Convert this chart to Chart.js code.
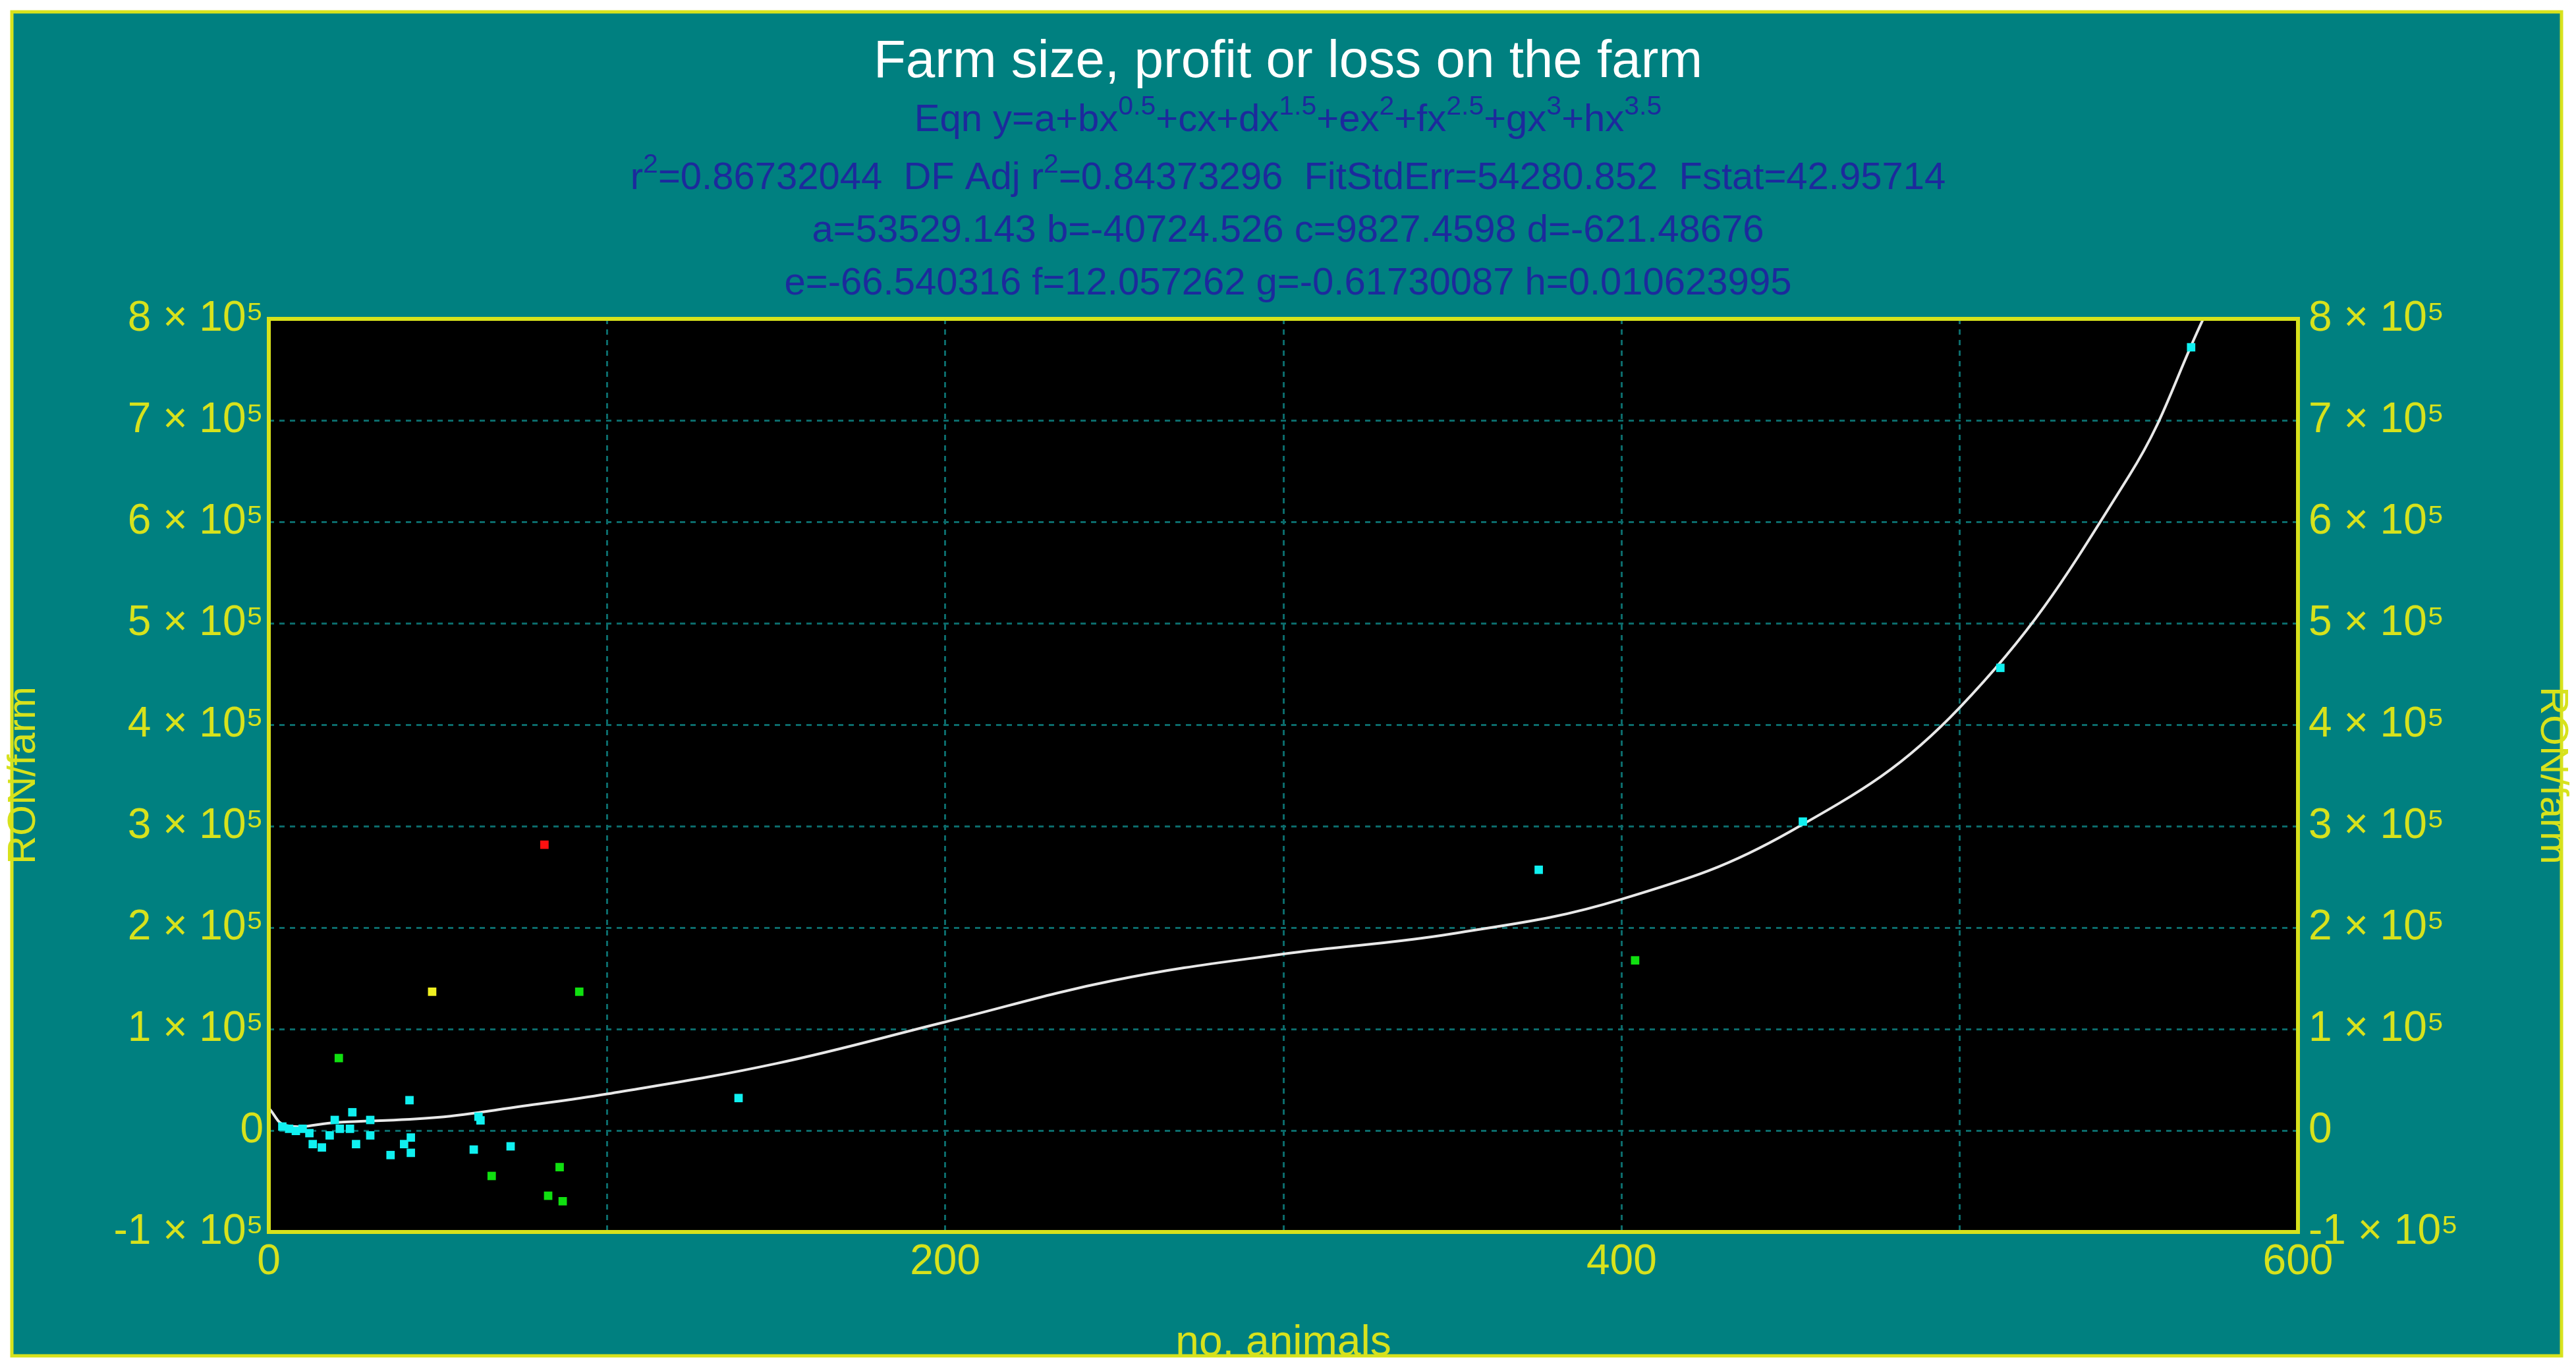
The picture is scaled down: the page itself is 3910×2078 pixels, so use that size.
<!DOCTYPE html>
<html>
<head>
<meta charset="utf-8">
<script src="https://cdn.jsdelivr.net/npm/chart.js@4"></script>
<style>body{margin:0;background:#fff}</style>
</head>
<body>
<canvas id="c" width="3910" height="2078"></canvas>
<script>
// Punkty pomiarowe (liczba zwierząt, RON/gospodarstwo)
const cyanX = [4, 8, 12, 15.7, 13, 18, 21, 24, 10, 6, 25.8, 30, 36, 42, 40, 42, 60.6, 71.5, 138.9, 41.6, 24.7, 19.5, 30, 62, 62.6, 375.5, 453.6, 512, 568.4];
const cyanY = [3900, -400, -2600, -16700, -13400, -4800, 1700, 1700, 1700, 1700, -13400, -4800, -24200, -6900, -13400, -22000, -18800, -15600, 32000, 29900, 18000, 10400, 10400, 13600, 10000, 257000, 304500, 456000, 772000];
const greenX = [20.7, 65.9, 86, 82.6, 86.9, 91.8, 404];
const greenY = [71400, -44800, -36100, -64300, -69700, 136800, 167700];
const redX = [81.5];
const redY = [281700];
const yellowX = [48.3];
const yellowY = [136800];
// Krzywa dopasowania
const fitX = [0, 5, 20, 50, 75, 100, 150, 200, 250, 300, 350, 400, 450, 500, 550, 572];
const fitY = [22000, 5000, 8000, 13000, 24000, 36000, 66000, 107000, 148000, 174000, 194000, 228000, 295000, 417000, 645000, 800000];

const headLines = [
  { font: "80px 'Liberation Sans'", color: "#ffffff", y: 95, segs: [["Farm size, profit or loss on the farm"]] },
  { font: "58px 'Liberation Sans'", color: "#1c2a9c", y: 183, segs: [["Eqn y=a+bx"], ["0.5", 1], ["+cx+dx"], ["1.5", 1], ["+ex"], ["2", 1], ["+fx"], ["2.5", 1], ["+gx"], ["3", 1], ["+hx"], ["3.5", 1]] },
  { font: "58px 'Liberation Sans'", color: "#1c2a9c", y: 271, segs: [["r"], ["2", 1], ["=0.86732044  DF Adj r"], ["2", 1], ["=0.84373296  FitStdErr=54280.852  Fstat=42.95714"]] },
  { font: "58px 'Liberation Sans'", color: "#1c2a9c", y: 351, segs: [["a=53529.143 b=-40724.526 c=9827.4598 d=-621.48676"]] },
  { font: "58px 'Liberation Sans'", color: "#1c2a9c", y: 431, segs: [["e=-66.540316 f=12.057262 g=-0.61730087 h=0.010623995"]] }
];

const pts = (xs, ys) => xs.map((x, i) => ({ x: x, y: ys[i] }));
const yellow = "#d7e21c";

// Tło, ramka i nagłówek
const frame = {
  id: "frame",
  beforeDraw(chart) {
    const ctx = chart.ctx, a = chart.chartArea;
    ctx.save();
    ctx.fillStyle = "#ffffff";
    ctx.fillRect(0, 0, 3910, 2078);
    ctx.fillStyle = "#008080";
    ctx.fillRect(18, 18, 3870, 2040);
    ctx.strokeStyle = yellow;
    ctx.lineWidth = 5;
    ctx.strokeRect(18, 18, 3870, 2040);
    ctx.fillStyle = "#000000";
    ctx.fillRect(a.left, a.top, a.right - a.left, a.bottom - a.top);
    ctx.restore();
  },
  afterDraw(chart) {
    const ctx = chart.ctx, a = chart.chartArea;
    ctx.save();
    ctx.strokeStyle = yellow;
    ctx.lineWidth = 6;
    ctx.strokeRect(a.left, a.top, a.right - a.left, a.bottom - a.top);
    ctx.textBaseline = "middle";
    headLines.forEach(line => {
      const size = parseInt(line.font);
      const supFont = Math.round(size * 0.7) + "px 'Liberation Sans'";
      let w = 0;
      line.segs.forEach(s => { ctx.font = s[1] ? supFont : line.font; w += ctx.measureText(s[0]).width; });
      let x = 1955 - w / 2;
      ctx.fillStyle = line.color;
      line.segs.forEach(s => {
        ctx.font = s[1] ? supFont : line.font;
        ctx.fillText(s[0], x, s[1] ? line.y - size * 0.35 : line.y);
        x += ctx.measureText(s[0]).width;
      });
    });
    ctx.restore();
  }
};

const yLabel = v => v === 0 ? "0" : (v / 1e5) + " × 10⁵";
const gridStyle = { color: "#0b6b6b", lineWidth: 3, drawTicks: false };

new Chart(document.getElementById("c"), {
  type: "scatter",
  data: {
    datasets: [
      { data: pts(fitX, fitY), showLine: true, borderColor: "#e8e8e8", borderWidth: 4, pointRadius: 0, tension: 0.4, order: 5 },
      { data: pts(cyanX, cyanY), backgroundColor: "#10f0f0", borderWidth: 0, pointStyle: "rect", pointRadius: 9 },
      { data: pts(greenX, greenY), backgroundColor: "#10e010", borderWidth: 0, pointStyle: "rect", pointRadius: 9 },
      { data: pts(redX, redY), backgroundColor: "#ff1010", borderWidth: 0, pointStyle: "rect", pointRadius: 9 },
      { data: pts(yellowX, yellowY), backgroundColor: "#f0f020", borderWidth: 0, pointStyle: "rect", pointRadius: 9 }
    ]
  },
  options: {
    responsive: false,
    animation: false,
    layout: { padding: { top: 484, left: 0, right: 0, bottom: 0 } },
    plugins: { legend: { display: false }, tooltip: { enabled: false } },
    scales: {
      x: {
        min: 0, max: 600,
        afterFit: s => { s.height = 208; },
        ticks: { stepSize: 100, color: yellow, font: { size: 64, family: "Liberation Sans" }, padding: 8, maxRotation: 0,
          callback: v => v % 200 === 0 ? v : "" },
        grid: Object.assign({ tickBorderDash: [6, 6] }, gridStyle),
        border: { display: false, dash: [8, 8] },
        title: { display: true, text: "no. animals", color: yellow, font: { size: 64, family: "Liberation Sans" }, padding: 0 }
      },
      y: {
        min: -100000, max: 800000,
        afterFit: s => { s.width = 408; },
        ticks: { stepSize: 100000, color: yellow, font: { size: 64, family: "Liberation Sans" }, padding: 8, callback: yLabel },
        grid: gridStyle,
        border: { display: false, dash: [8, 8] },
        title: { display: true, text: "RON/farm", color: yellow, font: { size: 60, family: "Liberation Sans" }, padding: 0 }
      },
      y2: {
        position: "right",
        min: -100000, max: 800000,
        afterFit: s => { s.width = 422; },
        ticks: { stepSize: 100000, color: yellow, font: { size: 64, family: "Liberation Sans" }, padding: 8, callback: yLabel },
        grid: { display: false },
        border: { display: false },
        title: { display: true, text: "RON/farm", color: yellow, font: { size: 60, family: "Liberation Sans" }, padding: 0 }
      }
    }
  },
  plugins: [frame]
});
</script>
</body>
</html>
